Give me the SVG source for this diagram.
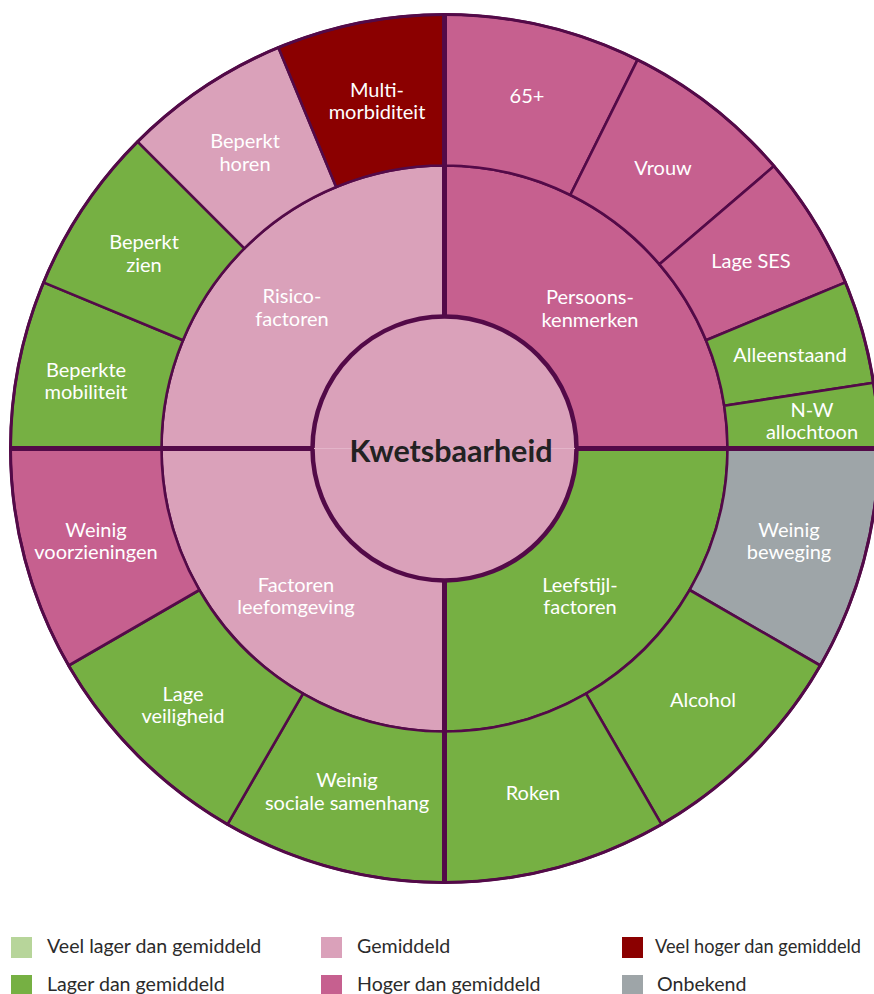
<svg xmlns="http://www.w3.org/2000/svg" width="874" height="994" viewBox="0 0 874 994">
<style>
.seg{stroke:#530a48;stroke-width:2.6;stroke-linejoin:round}
.g{fill:#76b043}.lp{fill:#daa1ba}.mp{fill:#c6608f}.dr{fill:#8b0000}.gr{fill:#9ea5a8}.lg{fill:#b7d59a}
.lbl{font-family:Lato,"Open Sans","Liberation Sans",sans-serif;font-size:20px;fill:#ffffff;text-anchor:middle}
.leg{font-family:Lato,"Open Sans","Liberation Sans",sans-serif;font-size:19.6px;fill:#2b2b2b}
.thick{stroke:#530a48;stroke-width:5;fill:none}
</style>
<rect width="874" height="994" fill="#ffffff"/>

<!-- middle ring quadrants -->
<g id="persoonskenmerken">
<path class="seg mp" d="M444.5,448.5 L444.5,165.5 A283,283 0 0 1 727.5,448.5 Z"/>
<text class="lbl" x="590" y="304">Persoons-</text><text class="lbl" x="590" y="327">kenmerken</text>
</g>
<g id="leefstijlfactoren">
<path class="seg g" d="M444.5,448.5 L727.5,448.5 A283,283 0 0 1 444.5,731.5 Z"/>
<text class="lbl" x="580" y="592">Leefstijl-</text><text class="lbl" x="580" y="614">factoren</text>
</g>
<g id="factoren-leefomgeving">
<path class="seg lp" d="M444.5,448.5 L444.5,731.5 A283,283 0 0 1 161.5,448.5 Z"/>
<text class="lbl" x="296" y="592">Factoren</text><text class="lbl" x="296" y="614">leefomgeving</text>
</g>
<g id="risicofactoren">
<path class="seg lp" d="M444.5,448.5 L161.5,448.5 A283,283 0 0 1 444.5,165.5 Z"/>
<text class="lbl" x="292" y="303">Risico-</text><text class="lbl" x="292" y="326">factoren</text>
</g>

<!-- outer ring -->
<g id="s-65plus">
<path class="seg mp" d="M444.5,165.5 L444.5,14.5 A434,434 0 0 1 637.5,59.8 L570.3,195 A283,283 0 0 0 444.5,165.5 Z"/>
<text class="lbl" x="527" y="103">65+</text>
</g>
<g id="s-vrouw">
<path class="seg mp" d="M570.3,195 L637.5,59.8 A434,434 0 0 1 774,166.1 L659.4,264.3 A283,283 0 0 0 570.3,195 Z"/>
<text class="lbl" x="663" y="175">Vrouw</text>
</g>
<g id="s-lage-ses">
<path class="seg mp" d="M659.4,264.3 L774,166.1 A434,434 0 0 1 845.5,282.4 L706,340.2 A283,283 0 0 0 659.4,264.3 Z"/>
<text class="lbl" x="751" y="268">Lage SES</text>
</g>
<g id="s-alleenstaand">
<path class="seg g" d="M706,340.2 L845.5,282.4 A434,434 0 0 1 873.5,382.8 L724.2,405.7 A283,283 0 0 0 706,340.2 Z"/>
<text class="lbl" x="790" y="362">Alleenstaand</text>
</g>
<g id="s-nw-allochtoon">
<path class="seg g" d="M724.2,405.7 L873.5,382.8 A434,434 0 0 1 878.5,448.5 L727.5,448.5 A283,283 0 0 0 724.2,405.7 Z"/>
<text class="lbl" x="812" y="417">N-W</text><text class="lbl" x="812" y="439">allochtoon</text>
</g>
<g id="s-weinig-beweging">
<path class="seg gr" d="M727.5,448.5 L878.5,448.5 A434,434 0 0 1 820.3,665.5 L689.6,590 A283,283 0 0 0 727.5,448.5 Z"/>
<text class="lbl" x="789" y="537">Weinig</text><text class="lbl" x="789" y="559">beweging</text>
</g>
<g id="s-alcohol">
<path class="seg g" d="M689.6,590 L820.3,665.5 A434,434 0 0 1 661.5,824.3 L586,693.6 A283,283 0 0 0 689.6,590 Z"/>
<text class="lbl" x="703" y="707">Alcohol</text>
</g>
<g id="s-roken">
<path class="seg g" d="M586,693.6 L661.5,824.3 A434,434 0 0 1 444.5,882.5 L444.5,731.5 A283,283 0 0 0 586,693.6 Z"/>
<text class="lbl" x="533" y="800">Roken</text>
</g>
<g id="s-sociale-samenhang">
<path class="seg g" d="M444.5,731.5 L444.5,882.5 A434,434 0 0 1 227.5,824.3 L303,693.6 A283,283 0 0 0 444.5,731.5 Z"/>
<text class="lbl" x="347" y="787">Weinig</text><text class="lbl" x="347" y="810">sociale samenhang</text>
</g>
<g id="s-lage-veiligheid">
<path class="seg g" d="M303,693.6 L227.5,824.3 A434,434 0 0 1 68.7,665.5 L199.4,590 A283,283 0 0 0 303,693.6 Z"/>
<text class="lbl" x="183" y="701">Lage</text><text class="lbl" x="183" y="723">veiligheid</text>
</g>
<g id="s-weinig-voorzieningen">
<path class="seg mp" d="M199.4,590 L68.7,665.5 A434,434 0 0 1 10.5,448.5 L161.5,448.5 A283,283 0 0 0 199.4,590 Z"/>
<text class="lbl" x="96" y="537">Weinig</text><text class="lbl" x="96" y="559">voorzieningen</text>
</g>
<g id="s-beperkte-mobiliteit">
<path class="seg g" d="M161.5,448.5 L10.5,448.5 A434,434 0 0 1 43.5,282.4 L183,340.2 A283,283 0 0 0 161.5,448.5 Z"/>
<text class="lbl" x="86" y="377">Beperkte</text><text class="lbl" x="86" y="399">mobiliteit</text>
</g>
<g id="s-beperkt-zien">
<path class="seg g" d="M183,340.2 L43.5,282.4 A434,434 0 0 1 137.6,141.6 L244.4,248.4 A283,283 0 0 0 183,340.2 Z"/>
<text class="lbl" x="144" y="249">Beperkt</text><text class="lbl" x="144" y="272">zien</text>
</g>
<g id="s-beperkt-horen">
<path class="seg lp" d="M244.4,248.4 L137.6,141.6 A434,434 0 0 1 278.4,47.5 L336.2,187 A283,283 0 0 0 244.4,248.4 Z"/>
<text class="lbl" x="245" y="148">Beperkt</text><text class="lbl" x="245" y="171">horen</text>
</g>
<g id="s-multimorbiditeit">
<path class="seg dr" d="M336.2,187 L278.4,47.5 A434,434 0 0 1 444.5,14.5 L444.5,165.5 A283,283 0 0 0 336.2,187 Z"/>
<text class="lbl" x="377" y="97">Multi-</text><text class="lbl" x="377" y="119">morbiditeit</text>
</g>

<!-- structural lines -->
<g id="connectors">
<circle cx="444.5" cy="448.5" r="434" fill="none" stroke="#530a48" stroke-width="3"/>
<line class="thick" x1="444.5" y1="14.5" x2="444.5" y2="882.5"/>
<line class="thick" x1="10.5" y1="448.5" x2="878.5" y2="448.5"/>
</g>

<g id="kwetsbaarheid">
<circle cx="444.5" cy="448.5" r="132" fill="#daa1ba" stroke="#530a48" stroke-width="4.5"/>
<line x1="314" y1="448.5" x2="575" y2="448.5" stroke="#e3b4c9" stroke-width="1"/>
<text x="451" y="462" style="font-family:Lato,'Open Sans','Liberation Sans',sans-serif;font-weight:bold;font-size:30.5px;fill:#222222;text-anchor:middle">Kwetsbaarheid</text>
</g>

<g id="legend">
<rect class="lg" x="11" y="937" width="21" height="21"/><text class="leg" x="47" y="953">Veel lager dan gemiddeld</text>
<rect class="g" x="11" y="975" width="21" height="21"/><text class="leg" x="47" y="991">Lager dan gemiddeld</text>
<rect class="lp" x="321" y="937" width="21" height="21"/><text class="leg" x="357" y="953">Gemiddeld</text>
<rect class="mp" x="321" y="975" width="21" height="21"/><text class="leg" x="357" y="991">Hoger dan gemiddeld</text>
<rect class="dr" x="622" y="937" width="21" height="21"/><text class="leg" x="655" y="953" style="font-size:18.8px" textLength="206" lengthAdjust="spacingAndGlyphs">Veel hoger dan gemiddeld</text>
<rect class="gr" x="622" y="975" width="21" height="21"/><text class="leg" x="657" y="991">Onbekend</text>
</g>
</svg>
